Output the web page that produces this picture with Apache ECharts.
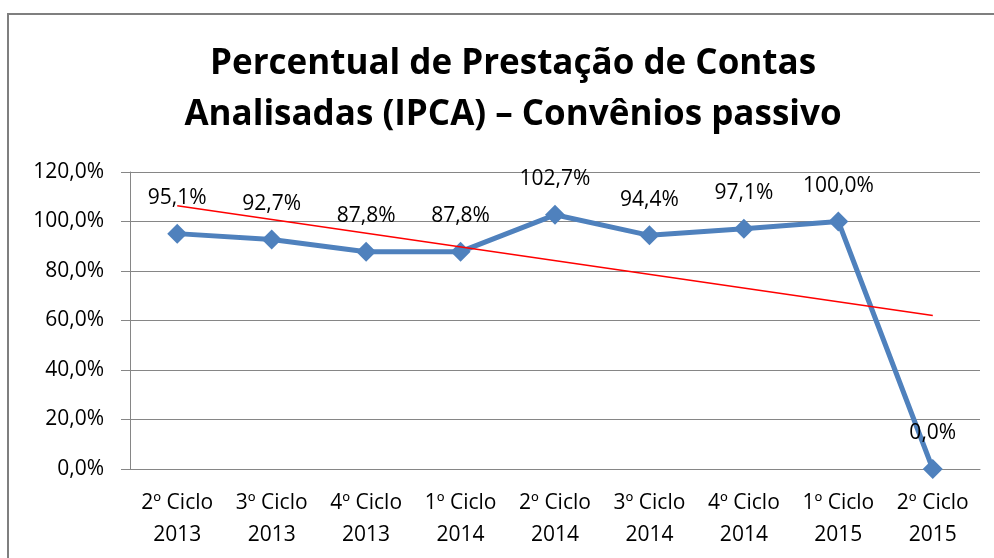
<!DOCTYPE html>
<html>
<head>
<meta charset="utf-8">
<script src="https://cdn.jsdelivr.net/npm/echarts@6/dist/echarts.min.js"></script>
<style>
  html, body { margin: 0; padding: 0; background: #fff; }
  #chart { width: 994px; height: 558px; }
</style>
</head>
<body>
<div id="chart"></div>
<script>
// dados
var categorias = ['2º Ciclo\n2013', '3º Ciclo\n2013', '4º Ciclo\n2013', '1º Ciclo\n2014', '2º Ciclo\n2014',
    '3º Ciclo\n2014', '4º Ciclo\n2014', '1º Ciclo\n2015', '2º Ciclo\n2015']
var percentuais = [95.1, 92.7, 87.8, 87.8, 102.7, 94.4, 97.1, 100.0, 0.0]
// linha de tendência (só as pontas)
var tendencia = [106.4, null, null, null, null, null, null, null, 62.0]
var eixoY = { min: 0, max: 120, intervalo: 20 }

var fonte = '"Open Sans", "Noto Sans", sans-serif'
var cinza = '#868686'

function fmt(v) {
    return v.toFixed(1).replace('.', ',') + '%'
}

var chart = echarts.init(document.getElementById('chart'))
var option = {
    animation: false,
    textStyle: { fontFamily: fonte },
    title: {
        text: 'Percentual de Prestação de Contas\nAnalisadas (IPCA) – Convênios passivo',
        left: 508,
        top: 34,
        textAlign: 'center',
        textStyle: {
            fontFamily: fonte,
            fontSize: 35,
            fontWeight: 'bold',
            color: '#000',
            lineHeight: 51
        }
    },
    graphic: [{
        type: 'rect',
        shape: { x: 8, y: 14, width: 1000, height: 600 },
        style: { fill: 'none', stroke: '#7f7f7f', lineWidth: 2 },
        silent: true
    }],
    grid: { left: 130, right: 14, top: 172, bottom: 89 },
    xAxis: {
        type: 'category',
        data: categorias,
        axisLine: { lineStyle: { color: cinza } },
        axisTick: { length: 8, lineStyle: { color: cinza } },
        axisLabel: {
            color: '#000',
            fontSize: 21,
            lineHeight: 32,
            margin: 18,
            interval: 0
        }
    },
    yAxis: {
        type: 'value',
        min: eixoY.min,
        max: eixoY.max,
        interval: eixoY.intervalo,
        axisLine: { show: true, lineStyle: { color: cinza } },
        axisTick: { show: true, length: 9, lineStyle: { color: cinza } },
        splitLine: { lineStyle: { color: cinza } },
        axisLabel: {
            color: '#000',
            fontSize: 21,
            margin: 26,
            formatter: fmt
        }
    },
    series: [
        {
            name: 'Percentual',
            type: 'line',
            data: percentuais,
            symbol: 'diamond',
            symbolSize: [20, 20],
            lineStyle: { color: '#4F81BD', width: 5 },
            itemStyle: { color: '#4F81BD' },
            label: {
                show: true,
                position: 'top',
                distance: 15,
                color: '#000',
                fontSize: 21,
                formatter: function (p) { return fmt(p.value) }
            },
            z: 3
        },
        {
            name: 'Tendência',
            type: 'line',
            data: tendencia,
            connectNulls: true,
            symbol: 'none',
            lineStyle: { color: '#FF0000', width: 1.5 },
            silent: true,
            z: 4
        }
    ]
}
chart.setOption(option)
</script>
</body>
</html>
